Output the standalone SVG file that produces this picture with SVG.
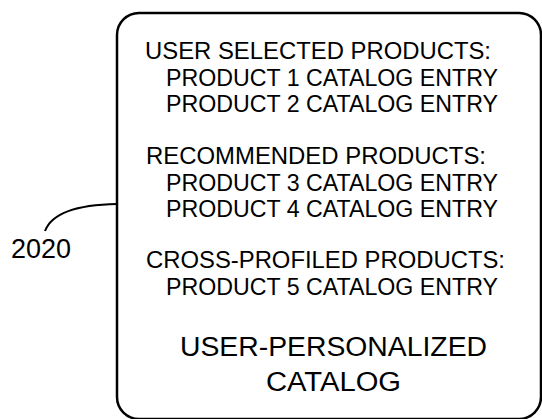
<svg xmlns="http://www.w3.org/2000/svg" width="542" height="419" viewBox="0 0 542 419">
<style>
.t{font-family:"Liberation Sans",Arial,sans-serif;fill:#000;}
.s{font-size:23px;}
.b{font-size:27px;}
.box{fill:none;stroke:#000;stroke-width:2.5;}
.lead{fill:none;stroke:#000;stroke-width:2;}
</style>
<rect width="542" height="419" fill="#fff"/>
<g id="catalog">
<rect class="box" x="117" y="13" width="424" height="406" rx="22" ry="22"/>
<text class="t s" x="145" y="58.5" textLength="346" lengthAdjust="spacingAndGlyphs">USER SELECTED PRODUCTS:</text>
<text class="t s" x="166" y="85.5" textLength="332" lengthAdjust="spacingAndGlyphs">PRODUCT 1 CATALOG ENTRY</text>
<text class="t s" x="166" y="112" textLength="332" lengthAdjust="spacingAndGlyphs">PRODUCT 2 CATALOG ENTRY</text>
<text class="t s" x="146" y="164" textLength="340" lengthAdjust="spacingAndGlyphs">RECOMMENDED PRODUCTS:</text>
<text class="t s" x="166" y="190.5" textLength="332" lengthAdjust="spacingAndGlyphs">PRODUCT 3 CATALOG ENTRY</text>
<text class="t s" x="166" y="217" textLength="332" lengthAdjust="spacingAndGlyphs">PRODUCT 4 CATALOG ENTRY</text>
<text class="t s" x="146" y="268" textLength="359" lengthAdjust="spacingAndGlyphs">CROSS-PROFILED PRODUCTS:</text>
<text class="t s" x="166" y="294.5" textLength="332" lengthAdjust="spacingAndGlyphs">PRODUCT 5 CATALOG ENTRY</text>
<text class="t b" x="180" y="356" textLength="307" lengthAdjust="spacingAndGlyphs">USER-PERSONALIZED</text>
<text class="t b" x="266" y="391" textLength="135" lengthAdjust="spacingAndGlyphs">CATALOG</text>
</g>
<g id="label-2020">
<text class="t" x="11" y="258" font-size="27" textLength="60" lengthAdjust="spacingAndGlyphs">2020</text>
</g>
<g id="connectors">
<path class="lead" d="M117,204 C86,204.5 53,210 45,231"/>
</g>
</svg>
